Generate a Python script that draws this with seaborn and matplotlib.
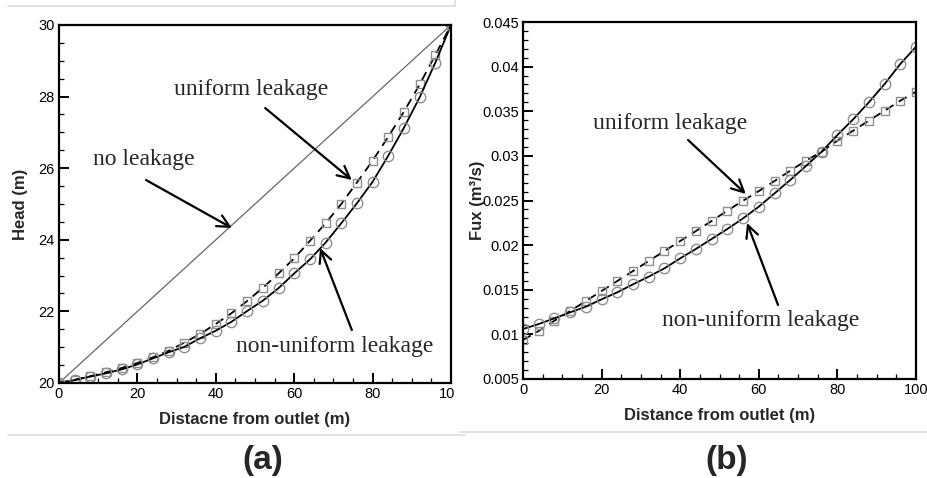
import numpy as np
import pandas as pd
import matplotlib
matplotlib.use("Agg")
import matplotlib.pyplot as plt
from matplotlib.lines import Line2D
from matplotlib.ticker import MultipleLocator
from matplotlib.transforms import Bbox, TransformedBbox
import seaborn as sns

# distance from outlet (m), sampled every 4 m
distance = list(range(0, 101, 4))

# (a) piezometric head (m)
head_nonuniform = [20.00, 20.08, 20.18, 20.27, 20.38, 20.52, 20.69, 20.86, 21.01,
                   21.25, 21.46, 21.71, 22.01, 22.30, 22.65, 23.06, 23.45, 23.92,
                   24.46, 25.02, 25.62, 26.35, 27.13, 27.98, 28.95, 30.00]
head_uniform = [20.00, 20.09, 20.19, 20.30, 20.42, 20.56, 20.72, 20.90, 21.13,
                21.37, 21.65, 21.95, 22.29, 22.66, 23.06, 23.48, 23.97, 24.46,
                25.00, 25.60, 26.21, 26.88, 27.58, 28.34, 29.16, 30.00]
noleak_x = [0, 100]
noleak_head = [20.0, 30.0]

# (b) flux (m3/s)
flux_nonuniform = [0.01060, 0.01116, 0.01180, 0.01247, 0.01310, 0.01393, 0.01471,
                   0.01561, 0.01647, 0.01740, 0.01852, 0.01957, 0.02069, 0.02181,
                   0.02300, 0.02431, 0.02580, 0.02730, 0.02887, 0.03047, 0.03234,
                   0.03409, 0.03600, 0.03805, 0.04029, 0.04223]
flux_uniform = [0.00937, 0.01038, 0.01153, 0.01262, 0.01374, 0.01486, 0.01598,
                0.01710, 0.01822, 0.01934, 0.02046, 0.02158, 0.02270, 0.02386,
                0.02498, 0.02606, 0.02718, 0.02834, 0.02946, 0.03047, 0.03170,
                0.03282, 0.03394, 0.03506, 0.03618, 0.03719]

x_ticks = [0, 20, 40, 60, 80, 100]
x_ticklabels = ["0", "20", "40", "60", "80", "100"]
head_ticks = [20, 22, 24, 26, 28, 30]
head_ticklabels = ["20", "22", "24", "26", "28", "30"]
flux_ticks = [0.005, 0.01, 0.015, 0.02, 0.025, 0.03, 0.035, 0.04, 0.045]
flux_ticklabels = ["0.005", "0.01", "0.015", "0.02", "0.025", "0.03", "0.035", "0.04", "0.045"]

sns.set_style("ticks")
plt.rcParams["font.family"] = ["Liberation Sans", "DejaVu Sans"]

W, H = 928, 478
fig = plt.figure(figsize=(W / 100, H / 100), dpi=100)
ax1 = fig.add_axes([59 / W, (H - 383) / H, 392 / W, 358 / H])
ax2 = fig.add_axes([523 / W, (H - 379) / H, 393 / W, 357 / H])

head_df = pd.DataFrame({"x": distance, "nonuniform": head_nonuniform, "uniform": head_uniform})
flux_df = pd.DataFrame({"x": distance, "nonuniform": flux_nonuniform, "uniform": flux_uniform})

mk_gray = "#8f8f8f"
solid_kw = dict(color="black", lw=1.3, marker="o", markersize=7.5,
                markerfacecolor="none", markeredgecolor=mk_gray, markeredgewidth=1.0)
dash_kw = dict(color="black", lw=1.3, linestyle=(0, (5, 3.5)), marker="s", markersize=5.5,
               markerfacecolor="none", markeredgecolor=mk_gray, markeredgewidth=1.0)

# panel (a)
sns.lineplot(x=noleak_x, y=noleak_head, ax=ax1, color="#666666", lw=0.9)
sns.lineplot(data=head_df, x="x", y="uniform", ax=ax1, **dash_kw)
sns.lineplot(data=head_df, x="x", y="nonuniform", ax=ax1, **solid_kw)
ax1.set_xlim(0, 100)
ax1.set_ylim(20, 30)
ax1.set_xticks(x_ticks)
ax1.set_xticklabels(x_ticklabels)
ax1.set_yticks(head_ticks)
ax1.set_yticklabels(head_ticklabels)
ax1.xaxis.set_minor_locator(MultipleLocator(5))
ax1.yaxis.set_minor_locator(MultipleLocator(0.5))
ax1.set_xlabel("Distacne from outlet (m)", fontsize=12, fontweight="bold")
ax1.set_ylabel("Head (m)", fontsize=12, fontweight="bold")

# panel (b)
sns.lineplot(data=flux_df, x="x", y="uniform", ax=ax2, **dash_kw)
sns.lineplot(data=flux_df, x="x", y="nonuniform", ax=ax2, **solid_kw)
ax2.set_xlim(0, 100)
ax2.set_ylim(0.005, 0.045)
ax2.set_xticks(x_ticks)
ax2.set_xticklabels(x_ticklabels)
ax2.set_yticks(flux_ticks)
ax2.set_yticklabels(flux_ticklabels)
ax2.xaxis.set_minor_locator(MultipleLocator(5))
ax2.yaxis.set_minor_locator(MultipleLocator(0.001))
ax2.set_xlabel("Distance from outlet (m)", fontsize=12, fontweight="bold")
ax2.set_ylabel("Fux (m³/s)", fontsize=12, fontweight="bold")

for ax in (ax1, ax2):
    for s in ax.spines.values():
        s.set_linewidth(1.6)
        s.set_color("black")
        s.set_visible(True)
    ax.tick_params(which="both", direction="in", top=False, right=False,
                   labelsize=10.5, colors="black", pad=3)
    ax.tick_params(which="major", length=7, width=1.4)
    ax.tick_params(which="minor", length=3.5, width=0.9)
    ax.xaxis.set_label_coords(0.5, -0.08)

ax1.yaxis.set_label_coords(-0.08, 0.5)
ax2.yaxis.set_label_coords(-0.097, 0.5)

# the left panel is cut at its right margin
clip = TransformedBbox(Bbox([[0, 0], [455 / W, 1]]), fig.transFigure)
for lab in ax1.get_xticklabels():
    lab.set_clip_box(clip)
    lab.set_clip_on(True)

arrow = dict(arrowstyle="->", lw=1.6, color="black", mutation_scale=22, shrinkA=0, shrinkB=0)
serif = dict(family=["Liberation Serif", "DejaVu Serif"], fontsize=17, ha="center", va="center")

# annotations (a)
ax1.text(49, 28.2, "uniform leakage", **serif)
ax1.annotate("", xy=(74.7, 25.67), xytext=(52.6, 27.68), arrowprops=arrow)
ax1.text(21.7, 26.25, "no leakage", **serif)
ax1.annotate("", xy=(44.1, 24.33), xytext=(22.2, 25.67), arrowprops=arrow)
ax1.text(70.4, 21.03, "non-uniform leakage", **serif)
ax1.annotate("", xy=(66.6, 23.77), xytext=(74.7, 21.48), arrowprops=arrow)

# annotations (b)
ax2.text(37.4, 0.0336, "uniform leakage", **serif)
ax2.annotate("", xy=(56.7, 0.02573), xytext=(42.0, 0.03178), arrowprops=arrow)
ax2.text(60.6, 0.0116, "non-uniform leakage", **serif)
ax2.annotate("", xy=(57.0, 0.02248), xytext=(64.9, 0.01329), arrowprops=arrow)

# panel letters
fig.text(263 / W, 1 - 460 / H, "(a)", fontsize=24, fontweight="heavy", ha="center", va="center")
fig.text(727 / W, 1 - 460 / H, "(b)", fontsize=24, fontweight="heavy", ha="center", va="center")

# faint panel frames
edge = "#dcdcdc"
for (x0, y0, x1, y1) in [(8, 6, 455, 6), (455, 0, 455, 6), (8, 435, 465, 435), (460, 432, 928, 432)]:
    fig.add_artist(Line2D([x0 / W, x1 / W], [1 - y0 / H, 1 - y1 / H],
                          transform=fig.transFigure, color=edge, lw=1.2))

fig.savefig("out.png", dpi=100, facecolor="white")
